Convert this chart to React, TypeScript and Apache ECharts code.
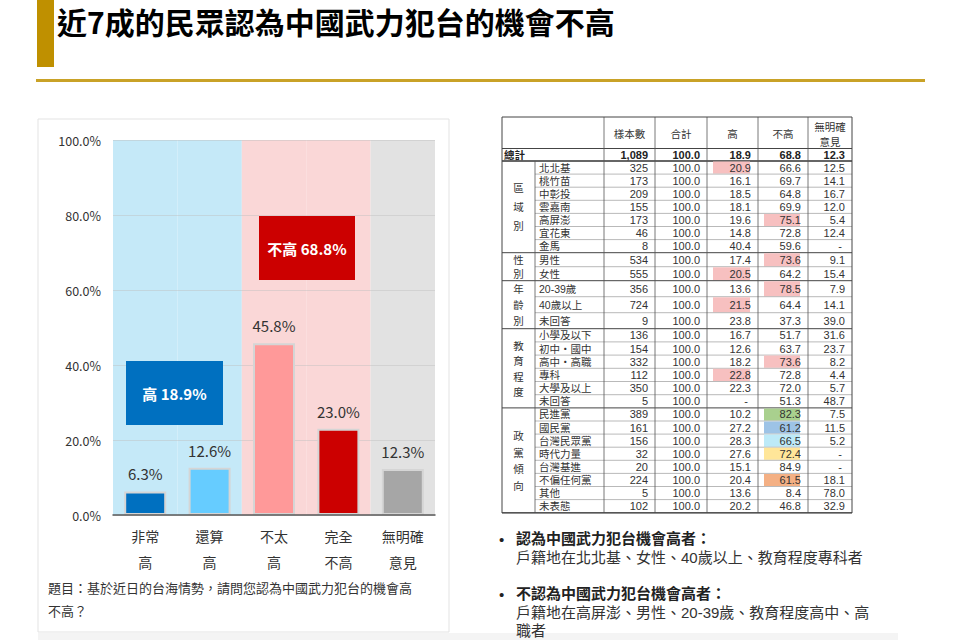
import React, { useEffect, useRef } from 'react';
import * as echarts from 'echarts';

const FONT = '"Noto Sans CJK TC", "Noto Sans", sans-serif';
const TABLE_FONT = '"Liberation Sans", "Noto Sans CJK TC", sans-serif';

// ---- headline ----
const titleText = '近7成的民眾認為中國武力犯台的機會不高';

// ---- bar chart data ----
const categories = ['非常\n高', '還算\n高', '不太\n高', '完全\n不高', '無明確\n意見'];
const values = [6.3, 12.6, 45.8, 23.0, 12.3];
const barColors = ['#0070C0', '#66CCFF', '#FF9999', '#CC0000', '#A6A6A6'];
const bandGroup = [0, 0, 1, 1, 2];
const bandColors = ['#C5E9F8', '#FAD7D7', '#E2E2E2'];
const Y_MIN = 0;
const Y_MAX = 100;
const Y_INTERVAL = 20;
const summaryLabels = ['高', '不高'];
const summaryValues = [18.9, 68.8];
const summaryColors = ['#0070C0', '#CC0000'];
const questionText = '題目：基於近日的台海情勢，請問您認為中國武力犯台的機會高\n不高？';

// ---- table data ----
const tableHeaders = ['樣本數', '合計', '高', '不高', '無明確\n意見'];
const totalLabel = '總計';
const totalValues = [1089, 100.0, 18.9, 68.8, 12.3];
const groupNames = ['區域別', '性別', '年齡別', '教育程度', '政黨傾向'];
const groupSizes = [7, 2, 3, 6, 8];
const rowLabels = [
  '北北基', '桃竹苗', '中彰投', '雲嘉南', '高屏澎', '宜花東', '金馬',
  '男性', '女性',
  '20-39歲', '40歲以上', '未回答',
  '小學及以下', '初中・國中', '高中・高職', '專科', '大學及以上', '未回答',
  '民進黨', '國民黨', '台灣民眾黨', '時代力量', '台灣基進', '不偏任何黨', '其他', '未表態',
];
const sampleN = [325, 173, 209, 155, 173, 46, 8, 534, 555, 356, 724, 9, 136, 154, 332, 112, 350, 5, 389, 161, 156, 32, 20, 224, 5, 102];
const sumPct = [100.0, 100.0, 100.0, 100.0, 100.0, 100.0, 100.0, 100.0, 100.0, 100.0, 100.0, 100.0, 100.0, 100.0, 100.0, 100.0, 100.0, 100.0, 100.0, 100.0, 100.0, 100.0, 100.0, 100.0, 100.0, 100.0];
const highPct = [20.9, 16.1, 18.5, 18.1, 19.6, 14.8, 40.4, 17.4, 20.5, 13.6, 21.5, 23.8, 16.7, 12.6, 18.2, 22.8, 22.3, null, 10.2, 27.2, 28.3, 27.6, 15.1, 20.4, 13.6, 20.2];
const notHighPct = [66.6, 69.7, 64.8, 69.9, 75.1, 72.8, 59.6, 73.6, 64.2, 78.5, 64.4, 37.3, 51.7, 63.7, 73.6, 72.8, 72.0, 51.3, 82.3, 61.2, 66.5, 72.4, 84.9, 61.5, 8.4, 46.8];
const noOpinionPct = [12.5, 14.1, 16.7, 12.0, 5.4, 12.4, null, 9.1, 15.4, 7.9, 14.1, 39.0, 31.6, 23.7, 8.2, 4.4, 5.7, 48.7, 7.5, 11.5, 5.2, null, null, 18.1, 78.0, 32.9];
// [rowIndex, columnIndex(0=樣本數..4=無明確意見), colour]
const highlightCells: [number, number, string][] = [
  [0, 2, '#F7C0C0'], [8, 2, '#F7C0C0'], [10, 2, '#F7C0C0'], [15, 2, '#F7C0C0'],
  [4, 3, '#F7C0C0'], [7, 3, '#F7C0C0'], [9, 3, '#F7C0C0'], [14, 3, '#F7C0C0'],
  [18, 3, '#A9D08E'], [19, 3, '#9DC3E6'], [20, 3, '#BDEAF8'], [21, 3, '#FFE699'], [23, 3, '#F4B084'],
];

// ---- notes ----
const noteHeads = ['認為中國武力犯台機會高者：', '不認為中國武力犯台機會高者：'];
const noteBodies = ['戶籍地在北北基、女性、40歲以上、教育程度專科者', '戶籍地在高屏澎、男性、20-39歲、教育程度高中、高\n職者'];

export default function App() {
  const ref = useRef<HTMLDivElement>(null);

  useEffect(() => {
    const chart = echarts.init(ref.current as HTMLDivElement, null, { renderer: 'svg' });
    const g: any[] = [];

    const txt = (x: number, y: number, text: string, align: string = 'left', extra: any = {}) => {
      g.push({
        type: 'text', x, y, silent: true,
        style: {
          text, fill: '#222', fontFamily: FONT, fontSize: 11,
          align, textAlign: align, verticalAlign: 'middle', textVerticalAlign: 'middle',
          ...extra,
        },
      });
    };
    const line = (x1: number, y1: number, x2: number, y2: number, stroke = '#444', lineWidth = 1) => {
      g.push({ type: 'line', silent: true, shape: { x1, y1, x2, y2 }, style: { stroke, lineWidth } });
    };
    const rect = (x: number, y: number, width: number, height: number, style: any) => {
      g.push({ type: 'rect', silent: true, shape: { x, y, width, height }, style });
    };

    // headline
    rect(37, 0, 17, 67, { fill: '#BF9000' });
    txt(57, 21, titleText, 'left', { fontSize: 30, fontWeight: 'bold', fill: '#000' });
    rect(36, 79, 889, 3, { fill: '#C9A227' });

    // chart panel
    rect(38, 119, 411, 513, { fill: 'rgba(0,0,0,0)', stroke: '#E3E3E3', lineWidth: 1 });
    rect(38, 633, 860, 7, { fill: '#F4F4F4' });

    // summary boxes
    const boxPos = [[126, 361, 97, 64], [259, 216, 96, 64]];
    summaryLabels.forEach((lab, i) => {
      const [bx, by, bw, bh] = boxPos[i];
      g.push({ type: 'rect', z: 10, silent: true, shape: { x: bx, y: by, width: bw, height: bh }, style: { fill: summaryColors[i] } });
      g.push({
        type: 'text', z: 11, x: bx + bw / 2, y: by + bh / 2, silent: true,
        style: {
          text: `${lab} ${summaryValues[i].toFixed(1)}%`, fill: '#fff', fontFamily: FONT, fontSize: 15, fontWeight: 'bold',
          align: 'center', textAlign: 'center', verticalAlign: 'middle', textVerticalAlign: 'middle',
        },
      });
    });

    // question
    txt(48, 576, questionText, 'left', { fontSize: 13, lineHeight: 23, verticalAlign: 'top', textVerticalAlign: 'top', fill: '#333' });

    // ---- table ----
    const cols = [502, 535, 604, 655, 707, 758, 808, 852];
    const headerTop = 117;
    const headerBottom = 148.5;
    const totalH = 12.5;
    const groupRowH = [13.1, 14, 16, 13.2, 13.1];
    const groupLabelLH = [19, 14, 16, 15.5, 16.5];
    const tableBottom = 513;
    const NUM_FS = 11;
    const LAB_FS = 10.5;

    const fmt = (v: number | null, col: number) => {
      if (v === null) return '-';
      if (col === 0) return v.toLocaleString('en-US');
      return v.toFixed(1);
    };

    tableHeaders.forEach((h, i) => {
      txt((cols[i + 2] + cols[i + 3]) / 2, (headerTop + headerBottom) / 2 + 1, h, 'center', { fontSize: 10.5, lineHeight: 15, fill: '#333' });
    });
    let y = headerBottom;
    line(cols[0], y, cols[7], y, '#444', 1);
    txt(cols[0] + 2, y + totalH / 2, totalLabel, 'left', { fontWeight: 'bold', fontSize: LAB_FS, lineHeight: 12, fontFamily: TABLE_FONT });
    totalValues.forEach((v, i) => {
      txt(cols[i + 3] - 7, y + totalH / 2, fmt(v, i), 'right', { fontWeight: 'bold', fontSize: NUM_FS, lineHeight: 12, fontFamily: TABLE_FONT });
    });
    y += totalH;
    line(cols[0], y, cols[7], y, '#333', 1.5);

    const colsData = [sampleN, sumPct, highPct, notHighPct, noOpinionPct];
    let r = 0;
    groupNames.forEach((gname, gi) => {
      const h = groupRowH[gi];
      const n = groupSizes[gi];
      const gTop = y;
      txt((cols[0] + cols[1]) / 2, gTop + (n * h) / 2, gname.split('').join('\n'), 'center', { fontSize: 10.5, lineHeight: groupLabelLH[gi], fill: '#333' });
      for (let k = 0; k < n; k++) {
        const rowTop = y;
        highlightCells.filter((c) => c[0] === r).forEach((c) => {
          const cl = cols[c[1] + 2];
          const cr = cols[c[1] + 3];
          rect(cl + 6, rowTop + 0.5, cr - cl - 14, h - 1, { fill: c[2] });
        });
        txt(cols[1] + 4, rowTop + h / 2, rowLabels[r], 'left', { fontSize: LAB_FS, lineHeight: 12, fill: '#333', fontFamily: TABLE_FONT });
        colsData.forEach((arr, ci) => {
          const v = arr[r];
          const right = cols[ci + 3] - (v === null ? 10 : 7);
          txt(right, rowTop + h / 2, fmt(v, ci), 'right', { fontSize: NUM_FS, lineHeight: 12, fill: '#333', fontFamily: TABLE_FONT });
        });
        if (k < n - 1) line(cols[1], rowTop + h, cols[7], rowTop + h, '#8a8a8a', 0.6);
        y += h;
        r++;
      }
      line(cols[0], y, cols[7], y, '#444', 1);
    });

    // verticals + outer border
    [cols[2], cols[3], cols[4], cols[5], cols[6]].forEach((x) => line(x, headerTop, x, tableBottom, '#555', 0.8));
    line(cols[1], headerBottom + totalH, cols[1], tableBottom, '#555', 0.8);
    rect(cols[0], headerTop, cols[7] - cols[0], tableBottom - headerTop, { fill: 'rgba(0,0,0,0)', stroke: '#444', lineWidth: 1 });

    // notes
    const noteY = [538, 593];
    noteHeads.forEach((head, i) => {
      txt(499, noteY[i] + 1, '•', 'left', { fontSize: 15, fill: '#222', fontFamily: TABLE_FONT });
      txt(516, noteY[i], head, 'left', { fontSize: 15, fontWeight: 'bold', fill: '#222', fontFamily: TABLE_FONT });
      txt(516, noteY[i] + 10, noteBodies[i], 'left', { fontSize: 15, lineHeight: 18, fill: '#333', verticalAlign: 'top', textVerticalAlign: 'top', fontFamily: TABLE_FONT });
    });

    chart.setOption({
      animation: false,
      grid: { left: 113, width: 322, top: 140, height: 375 },
      xAxis: [
        {
          type: 'category', data: categories, z: 5,
          axisTick: { show: false },
          axisLine: { lineStyle: { color: '#595959', width: 1.5 } },
          axisLabel: { interval: 0, fontSize: 14, lineHeight: 26, margin: 8, color: '#333', fontFamily: FONT },
        },
        { type: 'category', data: categories, show: false },
      ],
      yAxis: {
        type: 'value', min: Y_MIN, max: Y_MAX, interval: Y_INTERVAL, z: 3,
        axisLine: { show: false }, axisTick: { show: false },
        axisLabel: { formatter: (v: number) => `${v.toFixed(1)}%`, fontSize: 12.5, color: '#333', margin: 12, fontFamily: FONT },
        splitLine: { lineStyle: { color: 'rgba(190,190,190,0.45)', width: 1 } },
      },
      series: [
        {
          type: 'bar', xAxisIndex: 1, barWidth: '100%', silent: true, z: 1,
          data: categories.map((_, i) => ({ value: Y_MAX, itemStyle: { color: bandColors[bandGroup[i]] } })),
        },
        {
          type: 'bar', xAxisIndex: 0, barWidth: 42, z: 4,
          data: values.map((v, i) => ({ value: v, itemStyle: { color: barColors[i] } })),
          itemStyle: { borderColor: '#D5D5D5', borderWidth: 2 },
          label: {
            show: true, position: 'top', distance: 10, fontSize: 15, color: '#333', fontFamily: FONT,
            formatter: (p: any) => `${Number(p.value).toFixed(1)}%`,
          },
        },
      ],
      graphic: { elements: g },
    });

    return () => chart.dispose();
  }, []);

  return <div ref={ref} style={{ position: 'absolute', left: 0, top: 0, width: 960, height: 640, background: '#fff' }} />;
}
